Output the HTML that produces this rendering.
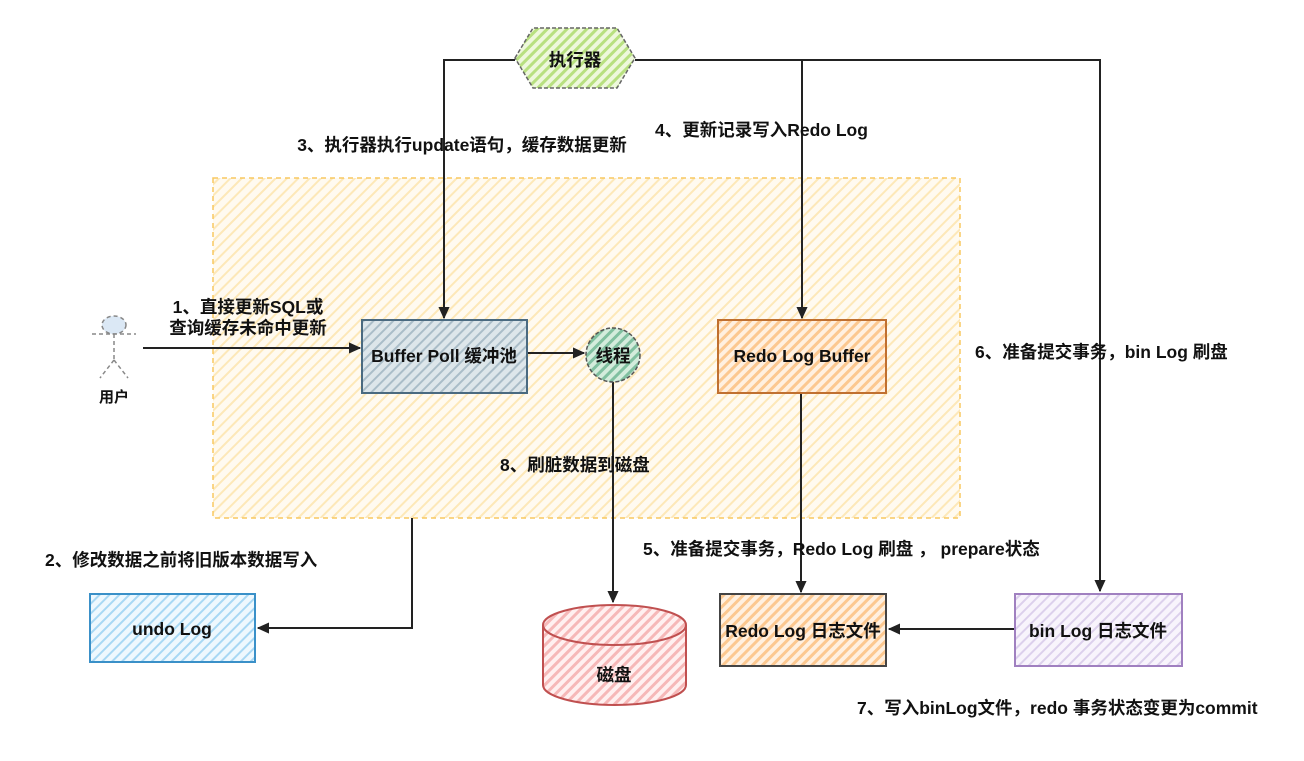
<!DOCTYPE html>
<html><head><meta charset="utf-8"><style>
body{margin:0;background:#fff;}
svg text{font-family:"Liberation Sans","Noto Sans CJK SC",sans-serif;font-size:17.5px;font-weight:bold;fill:#111;}
</style></head><body>
<svg width="1304" height="756" xmlns="http://www.w3.org/2000/svg">
<defs>
<pattern id="hy" width="8" height="8" patternUnits="userSpaceOnUse" patternTransform="rotate(45)"><rect width="8" height="8" fill="#fffaf0"/><rect width="2" height="8" fill="#fde8b8"/></pattern>
<pattern id="hb" width="7" height="7" patternUnits="userSpaceOnUse" patternTransform="rotate(45)"><rect width="7" height="7" fill="#dde6ea"/><rect width="2" height="7" fill="#aabdc8"/></pattern>
<pattern id="hg" width="7" height="7" patternUnits="userSpaceOnUse" patternTransform="rotate(45)"><rect width="7" height="7" fill="#d4ecdc"/><rect width="3" height="7" fill="#80c0a0"/></pattern>
<pattern id="hl" width="7" height="7" patternUnits="userSpaceOnUse" patternTransform="rotate(45)"><rect width="7" height="7" fill="#eef8dc"/><rect width="3" height="7" fill="#b8e080"/></pattern>
<pattern id="ho" width="7" height="7" patternUnits="userSpaceOnUse" patternTransform="rotate(45)"><rect width="7" height="7" fill="#fff0e0"/><rect width="3" height="7" fill="#fcc890"/></pattern>
<pattern id="hr" width="7" height="7" patternUnits="userSpaceOnUse" patternTransform="rotate(45)"><rect width="7" height="7" fill="#fff0f0"/><rect width="3" height="7" fill="#f6b8b8"/></pattern>
<pattern id="hp" width="7" height="7" patternUnits="userSpaceOnUse" patternTransform="rotate(45)"><rect width="7" height="7" fill="#f8f4fc"/><rect width="2" height="7" fill="#dcd0ec"/></pattern>
<pattern id="hc" width="7" height="7" patternUnits="userSpaceOnUse" patternTransform="rotate(45)"><rect width="7" height="7" fill="#eef8fe"/><rect width="2" height="7" fill="#a8d8f4"/></pattern>
<marker id="a" markerWidth="12" markerHeight="12" refX="11" refY="6" orient="auto" markerUnits="userSpaceOnUse"><path d="M0,1 L11,6 L0,11 Z" fill="#222" stroke="#222" stroke-width="1"/></marker>
</defs>
<rect x="213" y="178" width="747" height="340" fill="url(#hy)" stroke="#f8c860" stroke-width="1.5" stroke-dasharray="5,4"/>
<g stroke="#222" stroke-width="2" fill="none">
<path d="M515,60 L444,60 L444,318" marker-end="url(#a)"/>
<path d="M635,60 L1100,60 L1100,591" marker-end="url(#a)"/>
<path d="M802,60 L802,318" marker-end="url(#a)"/>
<path d="M143,348 L360,348" marker-end="url(#a)"/>
<path d="M527,353 L584,353" marker-end="url(#a)"/>
<path d="M613,382 L613,602" marker-end="url(#a)"/>
<path d="M801,393 L801,592" marker-end="url(#a)"/>
<path d="M1015,629 L889,629" marker-end="url(#a)"/>
<path d="M412,518 L412,628 L258,628" marker-end="url(#a)"/>
</g>
<polygon points="515,58 533,28 617,28 635,58 617,88 533,88" fill="url(#hl)" stroke="#666" stroke-width="1.5" stroke-dasharray="4,2"/>
<text x="575" y="66" text-anchor="middle">执行器</text>
<rect x="362" y="320" width="165" height="73" fill="url(#hb)" stroke="#4a6a80" stroke-width="2"/>
<text x="444" y="362" text-anchor="middle">Buffer Poll 缓冲池</text>
<circle cx="613" cy="355" r="27" fill="url(#hg)" stroke="#555" stroke-width="1.5" stroke-dasharray="4,2"/>
<text x="613" y="362" text-anchor="middle">线程</text>
<rect x="718" y="320" width="168" height="73" fill="url(#ho)" stroke="#c07030" stroke-width="2"/>
<text x="802" y="362" text-anchor="middle">Redo Log Buffer</text>
<path d="M543,625 L543,685 A71.5,20 0 0 0 686,685 L686,625" fill="url(#hr)" stroke="#c05050" stroke-width="2"/>
<ellipse cx="614.5" cy="625" rx="71.5" ry="20" fill="url(#hr)" stroke="#c05050" stroke-width="2"/>
<text x="614" y="681" text-anchor="middle">磁盘</text>
<rect x="720" y="594" width="166" height="72" fill="url(#ho)" stroke="#444" stroke-width="2"/>
<text x="803" y="637" text-anchor="middle">Redo Log 日志文件</text>
<rect x="1015" y="594" width="167" height="72" fill="url(#hp)" stroke="#a080c0" stroke-width="2"/>
<text x="1098" y="637" text-anchor="middle">bin Log 日志文件</text>
<rect x="90" y="594" width="165" height="68" fill="url(#hc)" stroke="#3a90c8" stroke-width="2"/>
<text x="172" y="635" text-anchor="middle">undo Log</text>
<g stroke="#888" stroke-width="1.5" stroke-dasharray="4,3" fill="none">
<ellipse cx="114" cy="325" rx="12" ry="9" fill="#dbe8f5"/>
<path d="M92,334 L136,334 M114,334 L114,360 M114,360 L100,378 M114,360 L128,378"/>
</g>
<text x="114" y="402" text-anchor="middle" style="font-size:15px">用户</text>
<text x="248" y="313" text-anchor="middle">1、直接更新SQL或</text>
<text x="248" y="334" text-anchor="middle">查询缓存未命中更新</text>
<text x="462" y="151" text-anchor="middle">3、执行器执行update语句，缓存数据更新</text>
<text x="655" y="136">4、更新记录写入Redo Log</text>
<text x="500" y="471">8、刷脏数据到磁盘</text>
<text x="975" y="358">6、准备提交事务，bin Log 刷盘</text>
<text x="643" y="555">5、准备提交事务，Redo Log 刷盘 ， prepare状态</text>
<text x="45" y="566">2、修改数据之前将旧版本数据写入</text>
<text x="857" y="714">7、写入binLog文件，redo 事务状态变更为commit</text>
</svg>
</body></html>
